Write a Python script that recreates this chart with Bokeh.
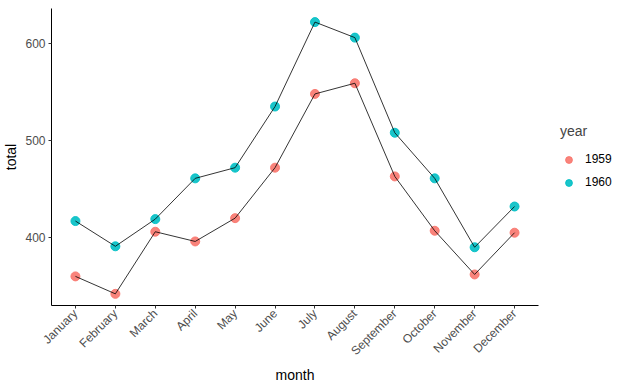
from bokeh.plotting import figure
from bokeh.models import FactorRange, Range1d, FixedTicker, Legend, LegendItem, ColumnDataSource
from bokeh.embed import file_html
from bokeh.resources import INLINE

months = ["January", "February", "March", "April", "May", "June", "July",
          "August", "September", "October", "November", "December"]
years = ["1959", "1960"]
total_1959 = [360, 342, 406, 396, 420, 472, 548, 559, 463, 407, 362, 405]
total_1960 = [417, 391, 419, 461, 472, 535, 622, 606, 508, 461, 390, 432]
colors = ["#F8766D", "#00BFC4"]
y_ticks = [400, 500, 600]

FONT = "Liberation Sans"

p = figure(frame_width=487, frame_height=297, output_backend="svg", toolbar_location=None,
           x_range=FactorRange(factors=months, range_padding=0.1, range_padding_units="absolute"),
           y_range=Range1d(330, 636),
           min_border_left=45, min_border_right=0, min_border_top=8, min_border_bottom=69)

p.xgrid.visible = False
p.ygrid.visible = False
p.outline_line_color = None
p.background_fill_color = "white"
p.border_fill_color = "white"

for ax in (p.xaxis[0], p.yaxis[0]):
    ax.axis_line_color = "black"
    ax.axis_line_width = 1
    ax.major_tick_line_color = "#333333"
    ax.major_tick_out = 3
    ax.major_tick_in = 0
    ax.minor_tick_line_color = None
    ax.major_label_text_color = "#4D4D4D"
    ax.major_label_text_font = FONT
    ax.major_label_text_font_size = "12px"
    ax.axis_label_text_font = FONT
    ax.axis_label_text_font_size = "14px"
    ax.axis_label_text_font_style = "normal"
    ax.axis_label_text_color = "black"

p.yaxis.ticker = FixedTicker(ticks=y_ticks)
p.yaxis.axis_label = "total"
p.yaxis.major_label_standoff = 3
p.yaxis.axis_label_standoff = 3
p.xaxis.axis_label = "month"
p.xaxis.major_label_orientation = 0.785
p.xaxis.major_label_standoff = 3
p.xaxis.axis_label_standoff = 1

items = []
for yr, vals, c in zip(years, [total_1959, total_1960], colors):
    src = ColumnDataSource(dict(month=months, total=vals))
    r = p.scatter("month", "total", source=src, size=9, color=c, alpha=0.9)
    p.line("month", "total", source=src, color="black", line_width=0.8)
    items.append(LegendItem(label=yr, renderers=[r]))

legend = Legend(items=items, title="year", location="center_left")
legend.title_text_font = FONT
legend.title_text_font_size = "14px"
legend.title_text_font_style = "normal"
legend.title_standoff = 12
legend.label_text_font = FONT
legend.label_text_font_size = "12px"
legend.label_text_color = "black"
legend.border_line_color = None
legend.background_fill_alpha = 0
legend.glyph_width = 17
legend.glyph_height = 17
legend.label_height = 17
legend.spacing = 6
legend.label_standoff = 8
legend.margin = 22
legend.padding = 6
p.add_layout(legend, "right")

open("out.html", "w").write(file_html(p, INLINE))
